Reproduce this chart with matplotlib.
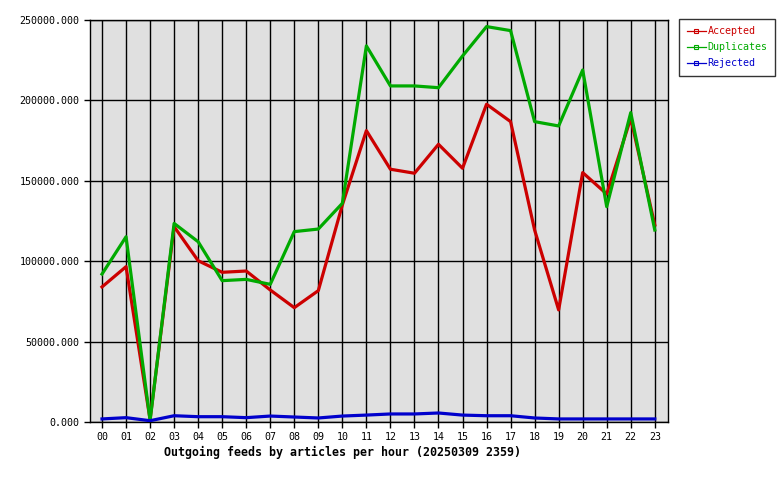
import matplotlib
matplotlib.use("Agg")
import matplotlib.pyplot as plt
from matplotlib.ticker import FuncFormatter

# hours of the day
hours = ["00", "01", "02", "03", "04", "05", "06", "07", "08", "09", "10", "11",
         "12", "13", "14", "15", "16", "17", "18", "19", "20", "21", "22", "23"]

# articles per hour
accepted = [84000, 96600, 1500, 121500, 100300, 93100, 93900, 82100, 71100, 81700, 135000, 181200,
            157200, 154700, 172700, 157800, 197600, 186800, 119400, 69700, 155100, 141800, 188900, 122500]
duplicates = [92000, 115200, 1000, 123500, 112100, 87900, 88700, 85600, 118400, 120000, 136000, 233900,
              209000, 209000, 207900, 227600, 245900, 243400, 186800, 184100, 218900, 133900, 192400, 119400]
rejected = [1900, 2700, 800, 3900, 3300, 3300, 2700, 3700, 3100, 2500, 3700, 4300,
            5000, 5000, 5600, 4300, 3900, 3900, 2500, 1900, 1900, 1900, 1900, 1900]

plt.rcParams['font.family'] = ['DejaVu Sans Mono']

fig = plt.figure(figsize=(7.8, 4.8), dpi=100)
ax = fig.add_axes([90 / 780, 58 / 480, 578 / 780, 402 / 480])
ax.set_facecolor('#e0e0e0')

x = list(range(len(hours)))
ax.plot(x, accepted, color='#cc0000', linewidth=2.3, label='Accepted', zorder=3)
ax.plot(x, duplicates, color='#00aa00', linewidth=2.3, label='Duplicates', zorder=3)
ax.plot(x, rejected, color='#0000cc', linewidth=2.3, label='Rejected', zorder=3)

ax.set_xlim(-0.5, 23.55)
ax.set_ylim(0, 250000)
ax.set_xticks(x)
ax.set_xticklabels(hours)
ax.set_yticks(range(0, 250001, 50000))
ax.yaxis.set_major_formatter(FuncFormatter(lambda v, p: "%.3f" % v))
ax.tick_params(labelsize=7.2, length=4, width=1, color='black')
ax.grid(True, color='black', linewidth=1, zorder=1)
ax.set_axisbelow(True)
for s in ax.spines.values():
    s.set_color('black')
    s.set_linewidth(1)

# title sits under the axis, a bit left of centre
fig.text(342 / 780, 1 - 452 / 480, "Outgoing feeds by articles per hour (20250309 2359)",
         fontsize=8.4, fontweight='bold', ha='center', va='center')

# legend with small square markers like the original
handles = []
for lbl, c in [('Accepted', '#cc0000'), ('Duplicates', '#00aa00'), ('Rejected', '#0000cc')]:
    h, = ax.plot([], [], color=c, linewidth=0.9, marker='s', markersize=3,
                 markerfacecolor='none', markeredgecolor=c, markeredgewidth=0.8, label=lbl)
    handles.append(h)
leg = fig.legend(handles=handles, loc='upper left', bbox_to_anchor=(679 / 780, 1 - 19 / 480),
                 fontsize=7.2, frameon=True, fancybox=False, edgecolor='black',
                 handlelength=1.9, handletextpad=0.2, borderpad=0.75, labelspacing=0.6,
                 borderaxespad=0, numpoints=1)
leg.get_frame().set_linewidth(1)
for t, h in zip(leg.get_texts(), handles):
    t.set_color(h.get_color())

fig.savefig("out.png", dpi=100)
